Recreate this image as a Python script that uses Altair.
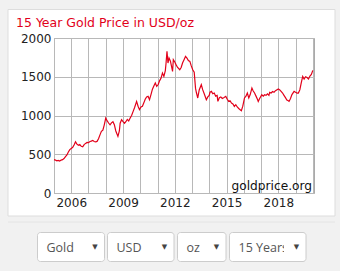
import altair as alt
import pandas as pd

# ---- data ----
dates = [
    "2005-01-01", "2005-02-01", "2005-03-01", "2005-04-01", "2005-05-01", "2005-06-01",
    "2005-07-01", "2005-08-01", "2005-09-01", "2005-10-01", "2005-11-01", "2005-12-01",
    "2006-01-01", "2006-02-01", "2006-03-01", "2006-04-01", "2006-05-01", "2006-06-01",
    "2006-07-01", "2006-08-01", "2006-09-01", "2006-10-01", "2006-11-01", "2006-12-01",
    "2007-01-01", "2007-02-01", "2007-03-01", "2007-04-01", "2007-05-01", "2007-06-01",
    "2007-07-01", "2007-08-01", "2007-09-01", "2007-10-01", "2007-11-01", "2007-12-01",
    "2008-01-01", "2008-02-01", "2008-03-01", "2008-04-01", "2008-05-01", "2008-06-01",
    "2008-07-01", "2008-08-01", "2008-09-15", "2008-10-15", "2008-11-01", "2008-12-01",
    "2009-01-01", "2009-02-01", "2009-03-01", "2009-04-01", "2009-05-01", "2009-06-01",
    "2009-07-01", "2009-08-01", "2009-09-01", "2009-10-15", "2009-11-15", "2009-12-15",
    "2010-01-15", "2010-02-15", "2010-03-15", "2010-04-15", "2010-05-15", "2010-06-15",
    "2010-07-15", "2010-08-15", "2010-09-15", "2010-10-15", "2010-11-15", "2010-12-15",
    "2011-01-15", "2011-02-15", "2011-03-15", "2011-04-15", "2011-05-15", "2011-06-15",
    "2011-07-01", "2011-07-20", "2011-08-10", "2011-09-01", "2011-10-01", "2011-11-15",
    "2011-12-01", "2012-01-01", "2012-02-01", "2012-03-01", "2012-04-15", "2012-05-15",
    "2012-06-15", "2012-07-15", "2012-08-15", "2012-09-15", "2012-10-15", "2012-11-15",
    "2012-12-15", "2013-01-15", "2013-02-15", "2013-03-15", "2013-04-01", "2013-05-01",
    "2013-06-01", "2013-07-15", "2013-08-15", "2013-09-15", "2013-10-30", "2013-11-30",
    "2013-12-30", "2014-01-15", "2014-02-15", "2014-03-15", "2014-04-15", "2014-05-15",
    "2014-06-15", "2014-07-01", "2014-08-01", "2014-09-01", "2014-10-01", "2014-11-01",
    "2014-12-15", "2015-01-15", "2015-02-15", "2015-03-15", "2015-04-15", "2015-05-15",
    "2015-06-15", "2015-07-15", "2015-08-15", "2015-09-15", "2015-10-15", "2015-11-10",
    "2015-12-10", "2016-01-15", "2016-02-15", "2016-03-15", "2016-04-15", "2016-05-15",
    "2016-06-20", "2016-07-15", "2016-08-15", "2016-09-15", "2016-10-15", "2016-11-01",
    "2016-12-01", "2017-01-15", "2017-02-15", "2017-03-15", "2017-04-15", "2017-05-15",
    "2017-06-15", "2017-07-01", "2017-08-01", "2017-09-01", "2017-10-01", "2017-11-01",
    "2017-12-31", "2018-01-31", "2018-02-28", "2018-03-31", "2018-04-30", "2018-05-31",
    "2018-06-30", "2018-07-31", "2018-08-15", "2018-09-15", "2018-10-15", "2018-11-30",
    "2018-12-31", "2019-01-31", "2019-02-28", "2019-03-31", "2019-04-30", "2019-05-31",
    "2019-06-30", "2019-07-31", "2019-08-31", "2019-09-30", "2019-10-31", "2019-11-30",
    "2019-12-31",
]
prices = [
    430, 425, 415, 420, 412, 425,
    430, 445, 470, 490, 530, 560,
    575, 590, 620, 660, 630, 615,
    625, 602, 595, 625, 640, 653,
    650, 665, 670, 679, 665, 660,
    666, 700, 750, 795, 810, 880,
    967, 930, 903, 880, 905, 920,
    881, 800, 730, 800, 900, 946,
    920, 900, 920, 950, 930, 967,
    1000, 1050, 1100, 1182, 1120, 1075,
    1110, 1120, 1160, 1210, 1240, 1247,
    1204, 1270, 1340, 1380, 1419, 1376,
    1400, 1450, 1480, 1548, 1505, 1580,
    1680, 1827, 1677, 1742, 1700, 1569,
    1720, 1690, 1650, 1620, 1590, 1620,
    1680, 1720, 1763, 1740, 1710, 1698,
    1640, 1591, 1560, 1350, 1300, 1226,
    1330, 1397, 1330, 1280, 1204, 1240,
    1260, 1300, 1311, 1280, 1290, 1250,
    1260, 1182, 1230, 1240, 1220, 1230,
    1247, 1210, 1182, 1190, 1160, 1150,
    1118, 1139, 1110, 1090, 1075, 1062,
    1120, 1226, 1250, 1290, 1226, 1270,
    1355, 1320, 1290, 1250, 1210, 1182,
    1220, 1268, 1250, 1268, 1260, 1280,
    1260, 1298, 1290, 1310, 1300, 1320,
    1342, 1330, 1311, 1290, 1260, 1230,
    1200, 1190, 1182, 1220, 1270, 1311,
    1300, 1290, 1290, 1330, 1420, 1505,
    1471, 1500, 1490, 1471, 1510, 1530,
    1582,
]
grid_years = list(range(2005, 2021))
y_ticks = [0, 500, 1000, 1500, 2000]
title_text = ["15 Year Gold Price in USD/oz"]
watermark_text = ["goldprice.org"]
menu_labels = ["Gold", "USD", "oz", "15 Years"]

df = pd.DataFrame({"date": dates, "price": prices})
one = pd.DataFrame({"k": [0]})

RED = "#e2001a"
FONT = "DejaVu Sans"
PAGE = "#f1f1f1"

x_enc = alt.X(
    "date:T",
    title=None,
    scale=alt.Scale(
        type="utc",
        domain=[
            alt.DateTime(year=2005, month=1, date=1, utc=True),
            alt.DateTime(year=2020, month=1, date=25, utc=True),
        ],
    ),
    axis=alt.Axis(
        values=[alt.DateTime(year=yr, month=1, date=1, utc=True) for yr in grid_years],
        labelExpr="(utcyear(datum.value) % 3 == 2) ? utcFormat(datum.value, '%Y') : ''",
        labelOverlap=False,
        labelFlush=False,
        domain=False,
        ticks=False,
        labelPadding=4,
        labelFont=FONT,
        labelFontSize=12,
        labelColor="#222222",
        gridColor="#b8b8b8",
    ),
)
y_enc = alt.Y(
    "price:Q",
    title=None,
    scale=alt.Scale(domain=[0, 2000], nice=False),
    axis=alt.Axis(
        values=y_ticks,
        format="d",
        domain=False,
        ticks=False,
        labelPadding=3,
        labelFont=FONT,
        labelFontSize=12,
        labelColor="#222222",
        gridColor="#b8b8b8",
    ),
)


def rect(x0, x1, y0, y1, **kw):
    return alt.Chart(one).mark_rect(**kw).encode(
        x=alt.value(x0), x2=alt.value(x1), y=alt.value(y0), y2=alt.value(y1)
    )


layers = []
# grey page around the white panel (panel itself = white background)
layers.append(rect(-54, 286, -38, -28.5, fill=PAGE))          # top strip
layers.append(rect(-54, -46, -38, 233, fill=PAGE))            # left strip
layers.append(rect(281, 286, -38, 233, fill=PAGE))            # right strip
layers.append(rect(-54, 286, 178, 233, fill=PAGE))            # bottom area
layers.append(rect(-46, 281, -28.5, 178, fill=None, stroke="#dddddd", strokeWidth=1))
layers.append(
    alt.Chart(one).mark_rule(color="#e4e4e4").encode(
        x=alt.value(-46), x2=alt.value(281), y=alt.value(184), y2=alt.value(184)
    )
)

layers.append(alt.Chart(df).mark_line(color=RED, strokeWidth=1.2).encode(x=x_enc, y=y_enc))

layers.append(
    alt.Chart(pd.DataFrame({"t": title_text})).mark_text(
        font=FONT, fontSize=12.5, color=RED, align="left", baseline="alphabetic"
    ).encode(text="t:N", x=alt.value(-38), y=alt.value(-11.5))
)
layers.append(
    alt.Chart(pd.DataFrame({"t": watermark_text})).mark_text(
        font=FONT, fontSize=12.2, color="#111111", align="right", baseline="alphabetic"
    ).encode(text="t:N", x=alt.value(258), y=alt.value(151.5))
)

# dropdown widgets below the chart
boxes = [(-16.5, 50.5), (53.5, 120), (123.5, 172), (175.5, 252)]
for (bx0, bx1), lab in zip(boxes, menu_labels):
    layers.append(rect(bx0, bx1, 194.5, 223.5, fill="white", stroke="#cccccc", strokeWidth=1, cornerRadius=3))
    layers.append(
        alt.Chart(pd.DataFrame({"t": [lab]})).mark_text(
            font="Open Sans", fontSize=12.5, color="#555555", align="left", baseline="alphabetic"
        ).encode(text="t:N", x=alt.value(bx0 + 9), y=alt.value(214))
    )
    layers.append(rect(bx1 - 22, bx1 - 1, 196, 222, fill="white"))
    layers.append(
        alt.Chart(pd.DataFrame({"t": ["▼"]})).mark_text(
            font=FONT, fontSize=7, color="#444444", align="center", baseline="middle"
        ).encode(text="t:N", x=alt.value(bx1 - 9.5), y=alt.value(208.5))
    )

chart = (
    alt.layer(*layers)
    .properties(
        width=260,
        height=155,
        padding={"left": 54, "top": 38, "right": 26, "bottom": 78},
        autosize=alt.AutoSizeParams(type="none"),
        background="white",
    )
    .configure_view(stroke="#aaaaaa", strokeWidth=1)
)

chart.save("out.html", embed_options={"renderer": "svg", "actions": False})
